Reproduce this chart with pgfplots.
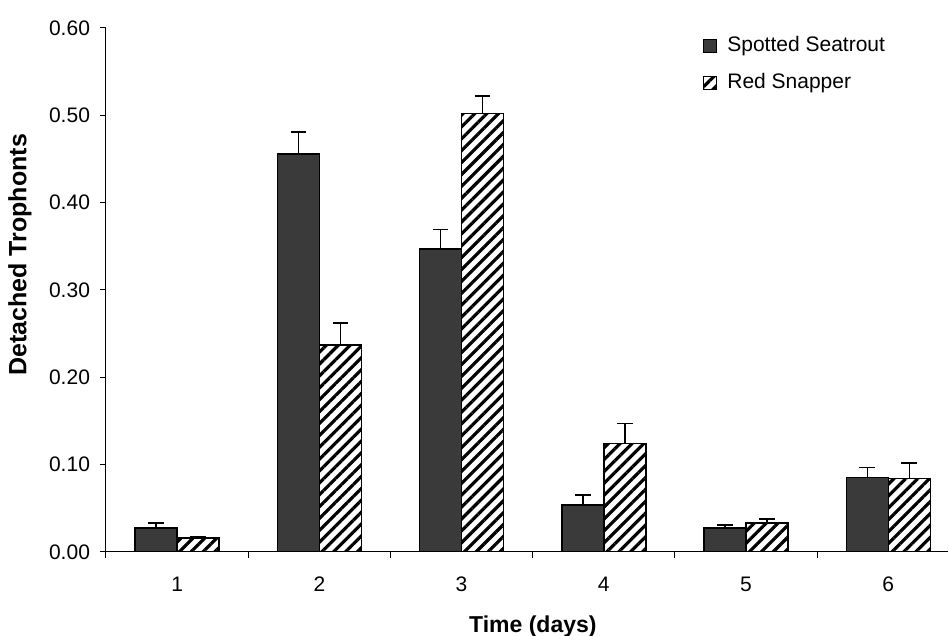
\documentclass[border=0pt]{standalone}
\usepackage{fontspec}
\setmainfont{Liberation Sans}
\usepackage{pgfplots}
\pgfplotsset{compat=1.18}
\usetikzlibrary{patterns.meta}
\definecolor{stgray}{RGB}{58,58,58}
\begin{document}
\begin{tikzpicture}
\begin{axis}[
  at={(53pt,42pt)}, anchor=south west,
  scale only axis, width=421pt, height=262pt,
  xmin=0.5, xmax=6.42, ymin=0, ymax=0.6,
  axis lines=left, axis line style={-, line width=0.5pt, black},
  ybar=0pt, bar width=21pt,
  xtick={0.5,1.5,2.5,3.5,4.5,5.5},
  xticklabels={1,2,3,4,5,6},
  xticklabel style={xshift=35.56pt, yshift=-6pt},
  ytick={0,0.1,0.2,0.3,0.4,0.5,0.6},
  yticklabel style={/pgf/number format/fixed, /pgf/number format/fixed zerofill, /pgf/number format/precision=2, xshift=-1.5pt},
  /pgf/number format/assume math mode=true,
  tick align=outside, major tick length=3pt,
  tick style={black, line width=0.5pt},
  tick label style={font=\fontsize{10.5}{12}\selectfont},
  xlabel={Time (days)}, ylabel={Detached Trophonts},
  xlabel style={font=\fontsize{11.5}{14}\selectfont\bfseries, at={(axis description cs:0.507,0)}, anchor=north, yshift=-28.5pt},
  ylabel style={font=\fontsize{12.5}{14}\selectfont\bfseries, at={(axis description cs:-0.1021,0.567)}, anchor=center},
  legend style={at={(rel axis cs:0.709,0.992)}, anchor=north west, draw=none, fill=none, inner sep=0pt, row sep=5.3pt, column sep=3pt, font=\fontsize{10.5}{12}\selectfont},
  legend cell align=left,
  legend image code/.code={\draw[#1, line width=0.5pt] (0pt,-3.25pt) rectangle (6.5pt,3.25pt);},
  error bars/y dir=plus, error bars/y explicit,
  error bars/error bar style={line width=0.75pt, black},
  error bars/error mark options={rotate=90, mark size=3.9pt, line width=0.75pt, black},
]
\addplot[draw=black, line width=0.75pt, fill=stgray] coordinates {
  (1,0.0275) +- (0,0.0055)
  (2,0.456) +- (0,0.025)
  (3,0.347) +- (0,0.022)
  (4,0.054) +- (0,0.011)
  (5,0.0275) +- (0,0.0035)
  (6,0.0855) +- (0,0.0115)
};
\addplot[draw=black, line width=0.75pt, pattern={Lines[angle=45,distance=4.2pt,line width=1.6pt]}] coordinates {
  (1,0.016) +- (0,0.002)
  (2,0.237) +- (0,0.025)
  (3,0.502) +- (0,0.020)
  (4,0.124) +- (0,0.023)
  (5,0.033) +- (0,0.005)
  (6,0.084) +- (0,0.018)
};
\legend{Spotted Seatrout, Red Snapper}
\end{axis}
\pgfresetboundingbox
\useasboundingbox (0,0) rectangle (474.5pt,318pt);
\end{tikzpicture}
\end{document}
